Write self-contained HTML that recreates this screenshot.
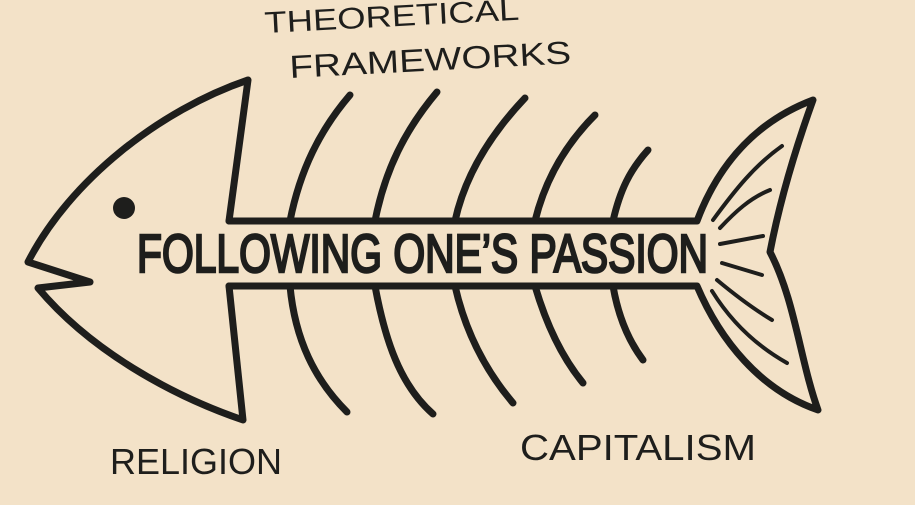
<!DOCTYPE html>
<html><head><style>body{margin:0;background:#f3e2c8}</style></head><body>
<svg width="915" height="500" viewBox="0 0 915 500" xmlns="http://www.w3.org/2000/svg">
<rect width="915" height="500" fill="#f3e2c8"/>
<g fill="none" stroke="#1e1e1c" stroke-width="7" stroke-linecap="round" stroke-linejoin="round">
<path d="M229,221 L248,80 C160,110 70,180 28,262 L90,282 L38,288 C90,350 170,395 243,420 L229,286"/>
<path d="M229,221 L697,221 C720,160 760,120 813,100 C795,150 780,200 770,252 C795,300 800,360 818,410 C760,390 720,340 697,286 L229,286"/>
<path d="M290,221 C300,170 320,130 350,95"/><path d="M375,221 C385,170 405,130 437,92"/>
<path d="M455,221 C465,175 490,135 525,98"/><path d="M535,221 C545,180 565,145 595,115"/>
<path d="M613,221 C620,190 630,170 648,150"/>
<path d="M290,286 C295,340 315,380 347,412"/><path d="M375,286 C385,340 400,385 433,414"/>
<path d="M455,286 C465,330 485,370 513,403"/><path d="M535,286 C545,320 560,355 583,383"/>
<path d="M613,286 C618,315 628,340 643,360"/>
<g stroke-width="4"><path d="M713,220 C735,190 755,165 782,146"/><path d="M720,228 C735,212 750,198 770,190"/>
<path d="M720,244 L763,236"/><path d="M722,263 L762,275"/><path d="M717,280 C735,295 752,308 772,320"/><path d="M712,291 C730,320 755,345 787,363"/></g>
</g>
<circle cx="124" cy="208" r="11" fill="#1e1e1c"/>
<g fill="#1e1e1c" font-family="Liberation Sans, sans-serif">
<text x="137" y="272" font-size="54" stroke="#1e1e1c" stroke-width="2.5" textLength="571" lengthAdjust="spacingAndGlyphs">FOLLOWING ONE’S PASSION</text>
<text x="265" y="33" font-size="30" textLength="255" lengthAdjust="spacingAndGlyphs" transform="rotate(-3 265 33)">THEORETICAL</text>
<text x="290" y="78" font-size="32" textLength="282" lengthAdjust="spacingAndGlyphs" transform="rotate(-3 290 78)">FRAMEWORKS</text>
<text x="110" y="474" font-size="36" textLength="172" lengthAdjust="spacingAndGlyphs">RELIGION</text>
<text x="520" y="460" font-size="36" textLength="236" lengthAdjust="spacingAndGlyphs">CAPITALISM</text>
</g>
</svg>
</body></html>
